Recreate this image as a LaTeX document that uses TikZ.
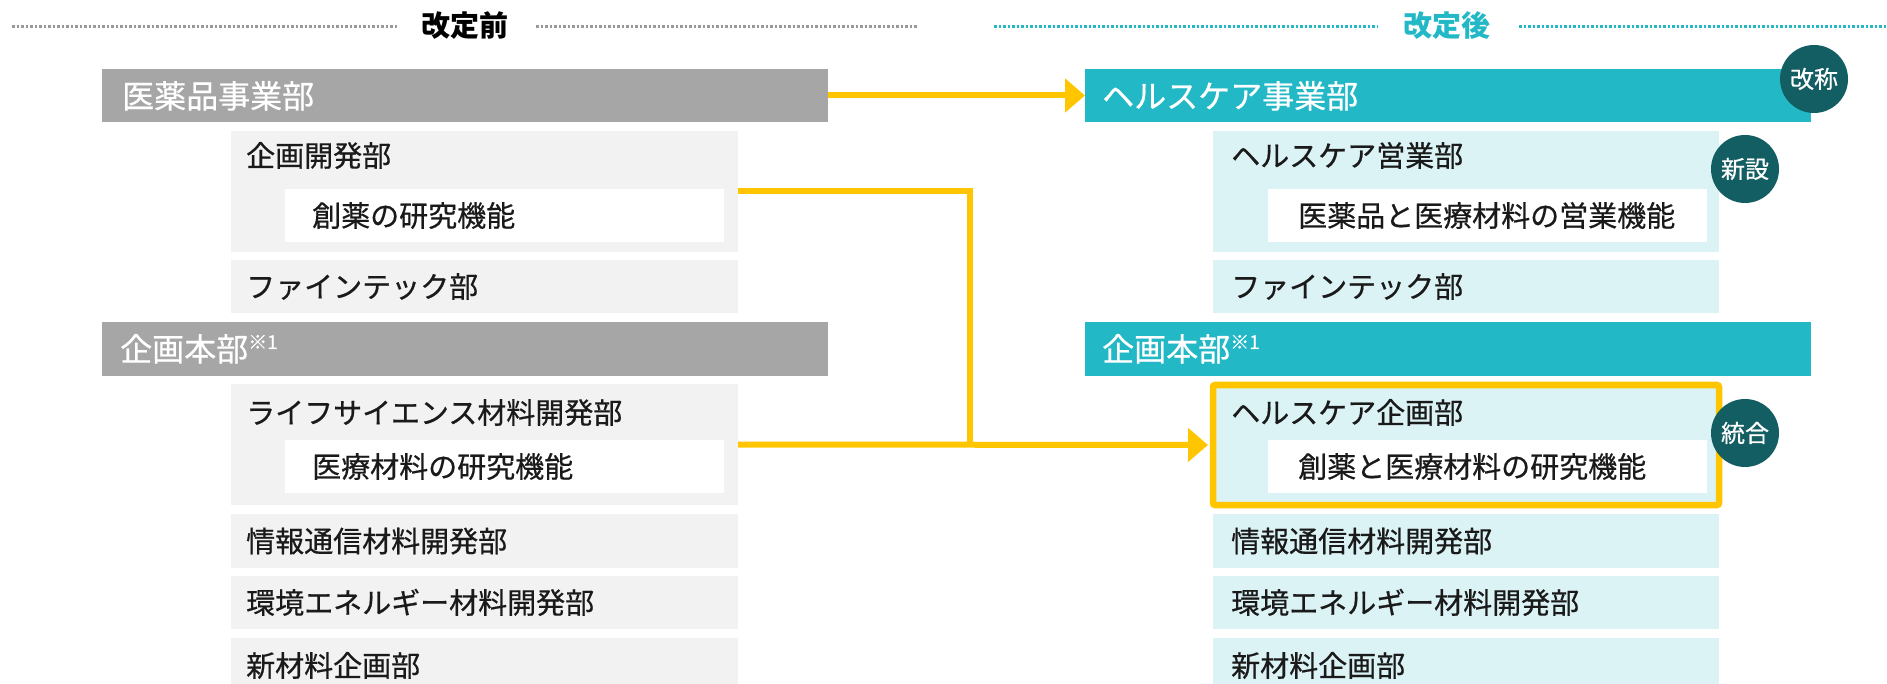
\documentclass[tikz,border=0pt]{standalone}
\usepackage{fontspec}
\setmainfont{Noto Sans CJK JP}
\newfontfamily\medf{Noto Sans CJK JP}[FakeBold=0.6]
\usetikzlibrary{arrows.meta}
\definecolor{hdgray}{HTML}{A6A6A6}
\definecolor{lgray}{HTML}{F2F2F2}
\definecolor{tealc}{HTML}{22B8C6}
\definecolor{lcyan}{HTML}{DCF3F6}
\definecolor{dteal}{HTML}{135E63}
\definecolor{ylw}{HTML}{FFC600}
\definecolor{dotgray}{HTML}{999999}
\definecolor{txtc}{HTML}{1A1A1A}
\newcommand\bx[6]{\node[boxn,fill=#1,minimum width={(#5)-(#3)},minimum height={(#6)-(#4)}] (#2) at (#3,#4) {};}
\newcommand\sups{{\fontsize{19}{19}\selectfont\raisebox{12pt}{※1}}}
\begin{document}
\begin{tikzpicture}[x=1pt,y=-1pt,
  boxn/.style={inner sep=0pt,outer sep=0pt,anchor=north west,draw=none},
  tx/.style={inner sep=0pt,anchor=base west,font=\medf\fontsize{29}{29}\selectfont,text=txtc},
  hx/.style={inner sep=0pt,anchor=base west,font=\medf\fontsize{32}{32}\selectfont,text=white},
  ttl/.style={inner sep=0pt,anchor=base,font=\fontsize{29}{29}\selectfont\bfseries},
  dotl/.style={line width=3pt,dash pattern=on 2.5pt off 2pt},
  yl/.style={draw=ylw,line width=6pt,line join=miter},
  badge/.style={circle,fill=dteal,minimum size=68pt,inner sep=0pt},
  bt/.style={inner sep=0pt,anchor=base,font=\medf\fontsize{24}{24}\selectfont,text=white}]
\useasboundingbox (0,0) rectangle (1887,684);
\fill[white] (0,0) rectangle (1887,684);

% titles and dotted rules
\draw[dotl,dotgray] (12,27) -- (397,27);
\draw[dotl,dotgray] (536,27) -- (918,27);
\node[ttl,text=black] (tl) at (465,36.5) {改定前};
\draw[dotl,tealc] (994,27) -- (1378,27);
\draw[dotl,tealc] (1519,27) -- (1887,27);
\node[ttl,text=tealc] (tr) at (1447,36.5) {改定後};

% ---------- left column ----------
\bx{hdgray}{h1}{102}{69}{828}{122}
\node[hx] (h1t) at (122,108) {医薬品事業部};
\bx{lgray}{kd}{231}{131}{738}{252}
\node[tx] (kdt) at (246,166.5) {企画開発部};
\bx{white}{kdw}{285}{189}{724}{242}
\node[tx] (kdwt) at (312,226.5) {創薬の研究機能};
\bx{lgray}{ft}{231}{260}{738}{313}
\node[tx] (ftt) at (246,297.5) {ファインテック部};
\bx{hdgray}{h2}{102}{322}{828}{376}
\node[hx] (h2t) at (120,361) {企画本部\sups};
\bx{lgray}{ls}{231}{384}{738}{505}
\node[tx] (lst) at (246,423.5) {ライフサイエンス材料開発部};
\bx{white}{lsw}{285}{440}{724}{493}
\node[tx] (lswt) at (312,477.5) {医療材料の研究機能};
\bx{lgray}{jt}{231}{514}{738}{568}
\node[tx] (jtt) at (246,552) {情報通信材料開発部};
\bx{lgray}{ke}{231}{576}{738}{629}
\node[tx] (ket) at (246,613.5) {環境エネルギー材料開発部};
\bx{lgray}{sz}{231}{638}{738}{690}
\node[tx] (szt) at (246,676.5) {新材料企画部};

% ---------- right column ----------
\bx{tealc}{r1}{1085}{69}{1811}{122}
\node[hx] (r1t) at (1102,108) {ヘルスケア事業部};
\bx{lcyan}{he}{1213}{131}{1719}{252}
\node[tx] (het) at (1231,166.5) {ヘルスケア営業部};
\bx{white}{hew}{1268}{189}{1707}{242}
\node[tx] (hewt) at (1298,226.5) {医薬品と医療材料の営業機能};
\bx{lcyan}{rft}{1213}{260}{1719}{313}
\node[tx] (rftt) at (1231,297.5) {ファインテック部};
\bx{tealc}{r2}{1085}{322}{1811}{376}
\node[hx] (r2t) at (1102,361) {企画本部\sups};
\bx{lcyan}{hp}{1213}{385}{1719}{505}
\bx{white}{hpw}{1268}{440}{1707}{493}
\node[tx] (hpt) at (1231,423.5) {ヘルスケア企画部};
\node[tx] (hpwt) at (1298,477.5) {創薬と医療材料の研究機能};
\draw[ylw,line width=6.5pt,rounded corners=2pt] (hp.north west) rectangle (hp.south east);
\bx{lcyan}{rjt}{1213}{514}{1719}{568}
\node[tx] (rjtt) at (1231,552) {情報通信材料開発部};
\bx{lcyan}{rke}{1213}{576}{1719}{629}
\node[tx] (rket) at (1231,613.5) {環境エネルギー材料開発部};
\bx{lcyan}{rsz}{1213}{638}{1719}{690}
\node[tx] (rszt) at (1231,676.5) {新材料企画部};

% badges
\node[badge] (b1) at (1814,79) {};
\node[bt] (b1t) at (1814,88) {改称};
\node[badge] (b2) at (1745,169) {};
\node[bt] (b2t) at (1745,178) {新設};
\node[badge] (b3) at (1745,433) {};
\node[bt] (b3t) at (1745,442) {統合};

% connectors
\coordinate (j) at (970,444.5);
\draw[yl] (kd.east) -| (j);
\draw[yl,-{Triangle[length=20pt,width=33pt]}] (h1.east) -- (r1.west);
\draw[yl,-{Triangle[length=20pt,width=33pt]},shorten >=5pt] (ls.east) -- (hp.west);
\end{tikzpicture}
\end{document}
